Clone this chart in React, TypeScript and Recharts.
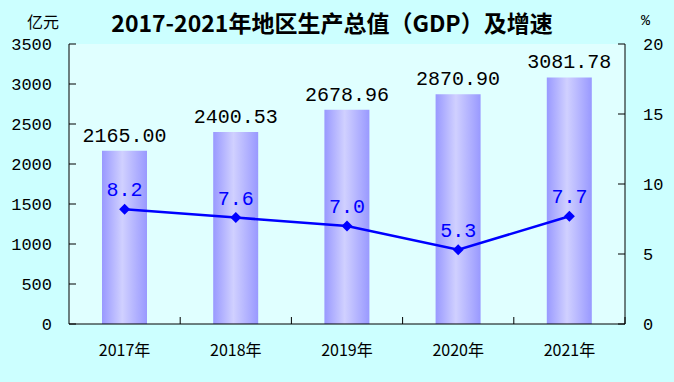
import { Bar, CartesianGrid, ComposedChart, LabelList, Line, XAxis, YAxis } from "recharts";

// 地区生产总值（柱，左轴 亿元）+ 增速（折线，右轴 %）
document.body.style.margin = "0";

const years = ["2017年", "2018年", "2019年", "2020年", "2021年"];
const gdp = [2165.0, 2400.53, 2678.96, 2870.9, 3081.78];
const growth = [8.2, 7.6, 7.0, 5.3, 7.7];
const gdpTicks = [0, 500, 1000, 1500, 2000, 2500, 3000, 3500];
const growthTicks = [0, 5, 10, 15, 20];

const W = 674;
const H = 382;
const PLOT_W = 556;
const NUM_FONT = "'Liberation Mono', 'DejaVu Sans Mono', monospace";
const CJK_FONT = "'Noto Sans CJK SC', 'Noto Sans', sans-serif";

const rows = years.map((year, i) => ({ year, gdp: gdp[i], growth: growth[i] }));

function YearTick({ x, y, payload }: any) {
  const half = payload?.offset ?? PLOT_W / years.length / 2;
  return (
    <g>
      <text x={x} y={y + 32} textAnchor="middle" fontSize={16} fontFamily={CJK_FONT} fill="#000">
        {payload.value}
      </text>
      <line x1={x + half} x2={x + half} y1={y} y2={y - 7} stroke="#000" strokeWidth={1} />
    </g>
  );
}

function Diamond({ cx, cy }: any) {
  if (cx == null || cy == null) return null;
  const r = 5.5;
  return <path d={`M${cx},${cy - r}L${cx + r},${cy}L${cx},${cy + r}L${cx - r},${cy}Z`} fill="#0000ff" />;
}

function GdpLabel({ x, y, width, value }: any) {
  return (
    <text x={x + width / 2} y={y - 9} textAnchor="middle" fontSize={20} fontFamily={NUM_FONT} fill="#000">
      {Number(value).toFixed(2)}
    </text>
  );
}

function GrowthLabel({ x, y, value }: any) {
  return (
    <text x={x} y={y - 13} textAnchor="middle" fontSize={20} fontFamily={NUM_FONT} fill="#0000ff">
      {Number(value).toFixed(1)}
    </text>
  );
}

export default function App() {
  const tickStyle = { fill: "#000", fontSize: 17, fontFamily: NUM_FONT };
  return (
    <div style={{ position: "relative", width: W, height: H, background: "#ccffff", overflow: "hidden" }}>
      <div
        style={{
          position: "absolute",
          top: 6,
          left: 0,
          width: W - 10,
          textAlign: "center",
          fontFamily: CJK_FONT,
          fontWeight: 700,
          fontSize: 23,
          lineHeight: "32px",
          color: "#000",
        }}
      >
        2017-2021年地区生产总值（GDP）及增速
      </div>
      <div style={{ position: "absolute", top: 10, left: 27, fontFamily: CJK_FONT, fontSize: 16, lineHeight: "22px" }}>
        亿元
      </div>
      <div style={{ position: "absolute", top: 11, left: 641, fontFamily: NUM_FONT, fontSize: 15, lineHeight: "22px" }}>
        %
      </div>
      <ComposedChart width={W} height={H} data={rows} margin={{ top: 44, right: 0, bottom: 0, left: 0 }}>
        <defs>
          <linearGradient id="barFill" x1="0" y1="0" x2="1" y2="0">
            <stop offset="0%" stopColor="#9999ff" />
            <stop offset="45%" stopColor="#d0d0ff" />
            <stop offset="100%" stopColor="#9999ff" />
          </linearGradient>
        </defs>
        <CartesianGrid yAxisId="left" horizontal={false} vertical={false} fill="#e0ffff" stroke="none" />
        <XAxis
          dataKey="year"
          height={58}
          interval={0}
          tickSize={0}
          tickMargin={0}
          tickLine={false}
          axisLine={{ stroke: "#000" }}
          tick={<YearTick />}
        />
        <YAxis
          yAxisId="left"
          width={69}
          domain={[0, 3500]}
          ticks={gdpTicks}
          interval={0}
          tickSize={-7}
          tickMargin={24}
          tick={tickStyle}
          axisLine={{ stroke: "#000" }}
          tickLine={{ stroke: "#000" }}
        />
        <YAxis
          yAxisId="right"
          orientation="right"
          width={49}
          domain={[0, 20]}
          ticks={growthTicks}
          interval={0}
          tickSize={-7}
          tickMargin={25}
          tick={tickStyle}
          axisLine={{ stroke: "#000" }}
          tickLine={{ stroke: "#000" }}
        />
        <Bar yAxisId="left" dataKey="gdp" barSize={45} fill="url(#barFill)" isAnimationActive={false}>
          <LabelList dataKey="gdp" content={<GdpLabel />} />
        </Bar>
        <Line
          yAxisId="right"
          dataKey="growth"
          type="linear"
          stroke="#0000ff"
          strokeWidth={2.5}
          dot={<Diamond />}
          activeDot={false}
          isAnimationActive={false}
        >
          <LabelList dataKey="growth" content={<GrowthLabel />} />
        </Line>
      </ComposedChart>
    </div>
  );
}
